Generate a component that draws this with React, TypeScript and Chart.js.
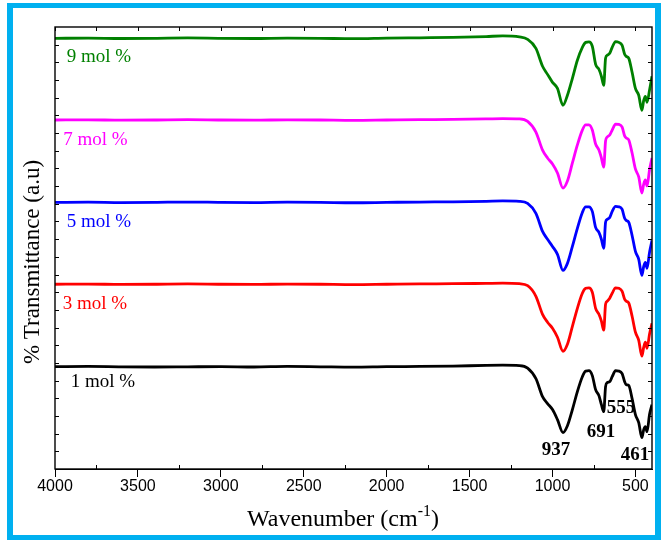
import React, { useEffect, useRef } from "react";
import { Chart, registerables } from "chart.js";

Chart.register(...registerables);

// Wavenumber (cm-1) sample positions shared by all spectra
const wavenumbers = [
  4000, 3800, 3600, 3400, 3200, 3000, 2800, 2600, 2400, 2200, 2000, 1800, 1600, 1400, 1300,
  1200, 1150, 1100, 1060, 1030, 1000, 970, 937, 910, 880,
  850, 820, 800, 780, 760, 740, 720, 705, 691, 680,
  670, 655, 640, 620, 600, 580, 565, 555, 540, 520,
  500, 480, 461, 450, 440, 430, 415, 400,
];

// % Transmittance (a.u), stacked spectra
const mol1 = [
  5.79, 5.8, 5.78, 5.77, 5.78, 5.79, 5.77, 5.8, 5.78, 5.76, 5.79, 5.8, 5.82, 5.86, 5.87,
  5.85, 5.71, 5.11, 4.09, 3.7, 3.36, 2.79, 2.06, 2.45, 3.36,
  4.38, 5.22, 5.54, 5.56, 5.28, 4.49, 4.15, 3.64, 3.24, 4.66,
  4.89, 4.94, 5.22, 5.56, 5.54, 5.39, 4.94, 4.77, 4.72, 3.98,
  3.08, 2.62, 1.77, 2.23, 2.4, 2.11, 3.08, 3.64,
];
const mol3 = [
  10.45, 10.46, 10.44, 10.45, 10.47, 10.45, 10.44, 10.46, 10.45, 10.43, 10.45, 10.47, 10.48, 10.5, 10.51,
  10.48, 10.37, 9.77, 8.75, 8.3, 7.96, 7.45, 6.66, 7.06, 8.07,
  9.09, 9.94, 10.22, 10.25, 10.0, 9.09, 8.75, 8.36, 7.85, 9.32,
  9.49, 9.66, 9.94, 10.25, 10.22, 10.05, 9.6, 9.49, 9.38, 8.64,
  7.74, 7.28, 6.38, 6.89, 7.17, 6.83, 7.62, 8.24,
];
const mol5 = [
  15.08, 15.09, 15.07, 15.08, 15.1, 15.08, 15.07, 15.09, 15.08, 15.06, 15.08, 15.1, 15.11, 15.14, 15.16,
  15.14, 15.02, 14.46, 13.44, 12.99, 12.59, 12.14, 11.23, 11.63, 12.59,
  13.61, 14.51, 14.83, 14.83, 14.57, 13.67, 13.38, 12.99, 12.48, 13.95,
  14.12, 14.23, 14.57, 14.85, 14.83, 14.68, 14.18, 14.06, 13.95, 13.21,
  12.31, 11.86, 10.95, 11.46, 11.69, 11.35, 12.25, 12.93,
];
const mol7 = [
  19.74, 19.75, 19.73, 19.74, 19.76, 19.74, 19.73, 19.75, 19.74, 19.72, 19.74, 19.76, 19.77, 19.8, 19.82,
  19.8, 19.66, 19.06, 18.04, 17.59, 17.25, 16.74, 15.89, 16.29, 17.31,
  18.33, 19.17, 19.46, 19.46, 19.17, 18.38, 18.04, 17.59, 17.08, 18.55,
  18.78, 18.89, 19.17, 19.51, 19.49, 19.34, 18.84, 18.72, 18.61, 17.87,
  16.97, 16.52, 15.61, 16.12, 16.35, 16.01, 16.91, 17.59,
];
const mol9 = [
  24.36, 24.37, 24.35, 24.36, 24.38, 24.36, 24.35, 24.37, 24.36, 24.34, 24.37, 24.39, 24.41, 24.46, 24.5,
  24.44, 24.3, 23.79, 22.78, 22.32, 21.87, 21.53, 20.57, 21.14, 22.1,
  23.12, 23.85, 24.13, 24.16, 23.91, 22.89, 22.61, 22.21, 21.7, 23.23,
  23.4, 23.51, 23.85, 24.17, 24.13, 23.96, 23.46, 23.34, 23.23, 22.44,
  21.53, 21.14, 20.29, 20.85, 21.08, 20.74, 21.42, 22.21,
];

const seriesNames = ["1 mol %", "3 mol %", "5 mol %", "7 mol %", "9 mol %"];
const seriesValues = [mol1, mol3, mol5, mol7, mol9];
const seriesColors = ["#000000", "#ff0000", "#0000ff", "#ff00ff", "#008000"];

const xTickValues = [4000, 3500, 3000, 2500, 2000, 1500, 1000, 500];

// Text annotations (positions in data units)
const seriesLabelX = [3905, 3954, 3929, 3950, 3929];
const seriesLabelY = [4.94, 9.33, 13.99, 18.61, 23.32];
const peakLabels = ["937", "691", "555", "461"];
const peakLabelX = [979, 707, 587, 502];
const peakLabelY = [1.07, 2.11, 3.45, 0.79];

const SERIF = "'Liberation Serif', 'Times New Roman', serif";

const decorPlugin = {
  id: "decor",
  afterDraw(chart: any) {
    const { ctx, chartArea } = chart;
    const xs = chart.scales.x;
    const ys = chart.scales.y;
    const { left, right, top, bottom } = chartArea;
    ctx.save();
    // frame
    ctx.strokeStyle = "#000";
    ctx.lineWidth = 1.4;
    ctx.strokeRect(left, top, right - left, bottom - top);
    // inner minor ticks
    ctx.lineWidth = 1;
    ctx.beginPath();
    for (let v = 500; v <= 4000; v += 250) {
      const px = Math.round(xs.getPixelForValue(v)) + 0.5;
      ctx.moveTo(px, top);
      ctx.lineTo(px, top + 4);
      if (v % 500 !== 0) {
        ctx.moveTo(px, bottom);
        ctx.lineTo(px, bottom - 4);
      }
    }
    for (let u = 1; u < 25; u++) {
      const py = Math.round(ys.getPixelForValue(u)) + 0.5;
      ctx.moveTo(left, py);
      ctx.lineTo(left + 4, py);
      ctx.moveTo(right, py);
      ctx.lineTo(right - 4, py);
    }
    ctx.stroke();

    // series labels
    ctx.font = `19px ${SERIF}`;
    ctx.textAlign = "left";
    ctx.textBaseline = "middle";
    seriesNames.forEach((name, i) => {
      ctx.fillStyle = seriesColors[i];
      ctx.fillText(name, xs.getPixelForValue(seriesLabelX[i]), ys.getPixelForValue(seriesLabelY[i]));
    });

    // peak labels
    ctx.font = `bold 19px ${SERIF}`;
    ctx.textAlign = "center";
    ctx.fillStyle = "#000";
    peakLabels.forEach((t, i) => {
      ctx.fillText(t, xs.getPixelForValue(peakLabelX[i]), ys.getPixelForValue(peakLabelY[i]));
    });

    // x axis title with superscript
    const main = "Wavenumber (cm";
    const sup = "-1";
    const close = ")";
    ctx.textAlign = "left";
    ctx.textBaseline = "alphabetic";
    ctx.font = `24px ${SERIF}`;
    const w1 = ctx.measureText(main).width;
    const w3 = ctx.measureText(close).width;
    ctx.font = `16px ${SERIF}`;
    const w2 = ctx.measureText(sup).width;
    const cx = 343;
    let sx = cx - (w1 + w2 + w3) / 2;
    const base = 526;
    ctx.font = `24px ${SERIF}`;
    ctx.fillText(main, sx, base);
    sx += w1;
    ctx.font = `16px ${SERIF}`;
    ctx.fillText(sup, sx, base - 10);
    sx += w2;
    ctx.font = `24px ${SERIF}`;
    ctx.fillText(close, sx, base);

    // y axis title
    ctx.save();
    ctx.translate(33, 262);
    ctx.rotate(-Math.PI / 2);
    ctx.textAlign = "center";
    ctx.textBaseline = "middle";
    ctx.font = `23px ${SERIF}`;
    ctx.fillText("% Transmittance (a.u)", 0, 0);
    ctx.restore();

    ctx.restore();
  },
};

export default function App() {
  const canvasRef = useRef<HTMLCanvasElement | null>(null);

  useEffect(() => {
    const canvas = canvasRef.current;
    if (!canvas) return;
    const datasets = seriesValues.map((vals, i) => ({
      label: seriesNames[i],
      data: wavenumbers.map((w, j) => ({ x: w, y: vals[j] })),
      borderColor: seriesColors[i],
      backgroundColor: seriesColors[i],
      borderWidth: 2.8,
      pointRadius: 0,
      fill: false,
      cubicInterpolationMode: "monotone" as const,
    }));
    const chart = new Chart(canvas, {
      type: "line",
      data: { datasets },
      options: {
        responsive: false,
        animation: false,
        devicePixelRatio: 1,
        layout: { padding: { left: 55, top: 27, right: 12, bottom: 0 } },
        plugins: { legend: { display: false }, tooltip: { enabled: false } },
        scales: {
          x: {
            type: "linear",
            reverse: true,
            min: 400,
            max: 4000,
            afterBuildTicks: (s: any) => {
              s.ticks = xTickValues.map((v) => ({ value: v }));
            },
            afterFit: (s: any) => {
              s.height = 73;
            },
            grid: { drawOnChartArea: false, drawTicks: true, tickLength: 8, color: "#000", lineWidth: 1 },
            border: { display: true, color: "#000", width: 1 },
            ticks: {
              font: { family: "'Liberation Sans', Arial, sans-serif", size: 16 },
              color: "#000",
              padding: 0,
              maxRotation: 0,
              autoSkip: false,
              callback: (v: any) => String(v),
            },
          },
          y: {
            type: "linear",
            min: 0,
            max: 25,
            afterFit: (s: any) => {
              s.width = 0;
            },
            ticks: { display: false },
            grid: { display: false },
            border: { display: false },
          },
        },
      },
      plugins: [decorPlugin],
    });
    return () => chart.destroy();
  }, []);

  return (
    <div style={{ position: "absolute", left: 0, top: 0, width: 664, height: 542, background: "#fff" }}>
      <div
        style={{
          position: "absolute",
          left: 7,
          top: 3,
          width: 654,
          height: 537,
          boxSizing: "border-box",
          borderStyle: "solid",
          borderColor: "#00b0f0",
          borderWidth: "5px 6px 5px 6px",
        }}
      />
      <canvas
        ref={canvasRef}
        width={664}
        height={542}
        style={{ position: "absolute", left: 0, top: 0, width: 664, height: 542 }}
      />
    </div>
  );
}
